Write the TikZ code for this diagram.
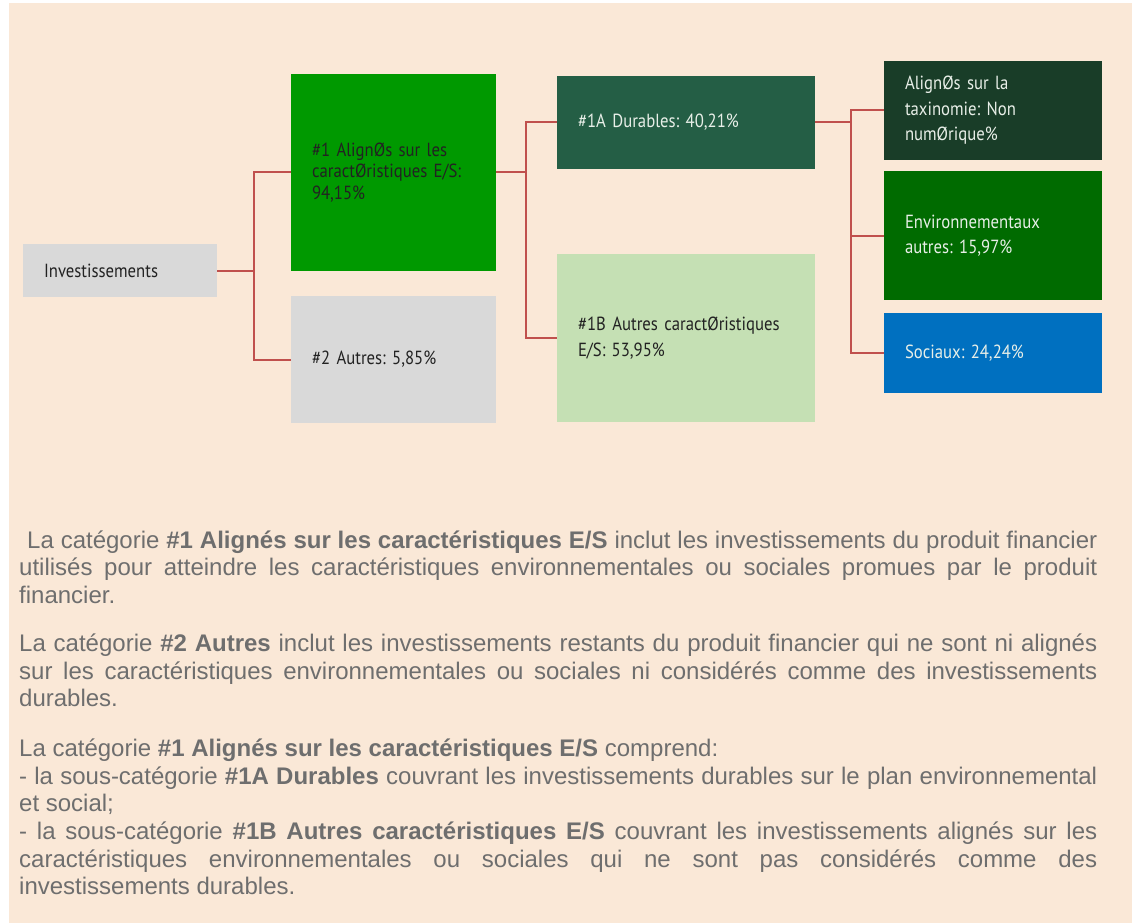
\documentclass[tikz,border=0pt]{standalone}
\usepackage{fontspec}
\setmainfont{Liberation Sans}
\newfontfamily\boxfont[FakeStretch=0.88]{PT Sans}
\definecolor{bgc}{HTML}{FAE8D7}
\definecolor{greyb}{HTML}{D9D9D9}
\definecolor{greenb}{HTML}{009900}
\definecolor{durb}{HTML}{245E45}
\definecolor{autb}{HTML}{C5E0B4}
\definecolor{taxb}{HTML}{193D28}
\definecolor{envb}{HTML}{006B00}
\definecolor{socb}{HTML}{0070C0}
\definecolor{connc}{HTML}{C0504D}
\definecolor{txtg}{HTML}{6E6E6E}
\definecolor{lighttxt}{HTML}{E8EFE8}
\definecolor{darktxt}{HTML}{222222}
\begin{document}
\begin{tikzpicture}[x=1pt,y=-1pt,
  box/.style={rectangle, anchor=north west, inner xsep=21pt, inner ysep=0pt,
    align=left, outer sep=0pt, font=\boxfont\fontsize{19}{25.5}\selectfont\frenchspacing},
  conn/.style={draw=connc, line width=2pt},
  para/.style={anchor=base west, inner sep=0pt, text width=1078pt, align=justify,
    text=txtg, font=\fontsize{24}{27.6}\selectfont}]
\useasboundingbox (0,0) rectangle (1136,923);
\fill[bgc] (9,3) rectangle (1132,923);

\node[box, fill=greyb, text=darktxt, text width=152pt, minimum height=53pt] (inv) at (23,244) {Investissements};
\node[box, fill=greenb, text=darktxt, text width=163pt, minimum height=197pt,
  font=\boxfont\fontsize{19}{21.5}\selectfont\frenchspacing] (a1) at (291,74) {\#1 AlignØs sur les\\caractØristiques E/S:\\94,15\%};
\node[box, fill=greyb, text=darktxt, text width=163pt, minimum height=127pt] (a2) at (291,296) {\#2 Autres: 5,85\%};
\node[box, fill=durb, text=lighttxt, text width=216pt, minimum height=93pt] (d1a) at (557,76) {\#1A Durables: 40,21\%};
\node[box, fill=autb, text=darktxt, text width=216pt, minimum height=168pt] (d1b) at (557,254) {\#1B Autres caractØristiques\\E/S: 53,95\%};
\node[box, fill=taxb, text=lighttxt, text width=176pt, minimum height=99pt] (tax) at (884,61) {AlignØs sur la\\taxinomie: Non\\numØrique\%};
\node[box, fill=envb, text=lighttxt, text width=176pt, minimum height=129pt] (env) at (884,171) {Environnementaux\\autres: 15,97\%};
\node[box, fill=socb, text=lighttxt, text width=176pt, minimum height=80pt] (soc) at (884,313) {Sociaux: 24,24\%};

\draw[conn] (inv.east) -- ++(37,0);
\draw[conn] (a1.west) -- ++(-37,0) |- (a2.west);
\draw[conn] (a1.east) -- ++(30,0);
\draw[conn] (d1a.west) -- ++(-31,0) |- (d1b.west);
\draw[conn] (d1a.east) -- ++(36,0);
\draw[conn] (tax.west) -- ++(-33,0) |- (soc.west);
\draw[conn] (env.west) -- ++(-33,0);

\node[para] (p1) at (19,548.3) {\hyphenpenalty=10000\tolerance=9999\hspace*{8pt}La catégorie \textbf{\#1 Alignés sur les caractéristiques E/S} inclut les investissements du produit financier\linebreak utilisés pour atteindre les caractéristiques environnementales ou sociales promues par le produit\linebreak financier.};
\node[para] (p2) at (19,651.7) {\hyphenpenalty=10000\tolerance=9999 La catégorie \textbf{\#2 Autres} inclut les investissements restants du produit financier qui ne sont ni alignés\linebreak sur les caractéristiques environnementales ou sociales ni considérés comme des investissements\linebreak durables.};
\node[para] (p3) at (19,756.7) {\hyphenpenalty=10000\tolerance=9999 La catégorie \textbf{\#1 Alignés sur les caractéristiques E/S} comprend:\newline - la sous-catégorie \textbf{\#1A Durables} couvrant les investissements durables sur le plan environnemental\linebreak et social;\newline - la sous-catégorie \textbf{\#1B Autres caractéristiques E/S} couvrant les investissements alignés sur les\linebreak caractéristiques environnementales ou sociales qui ne sont pas considérés comme des\linebreak investissements durables.};
\end{tikzpicture}
\end{document}
